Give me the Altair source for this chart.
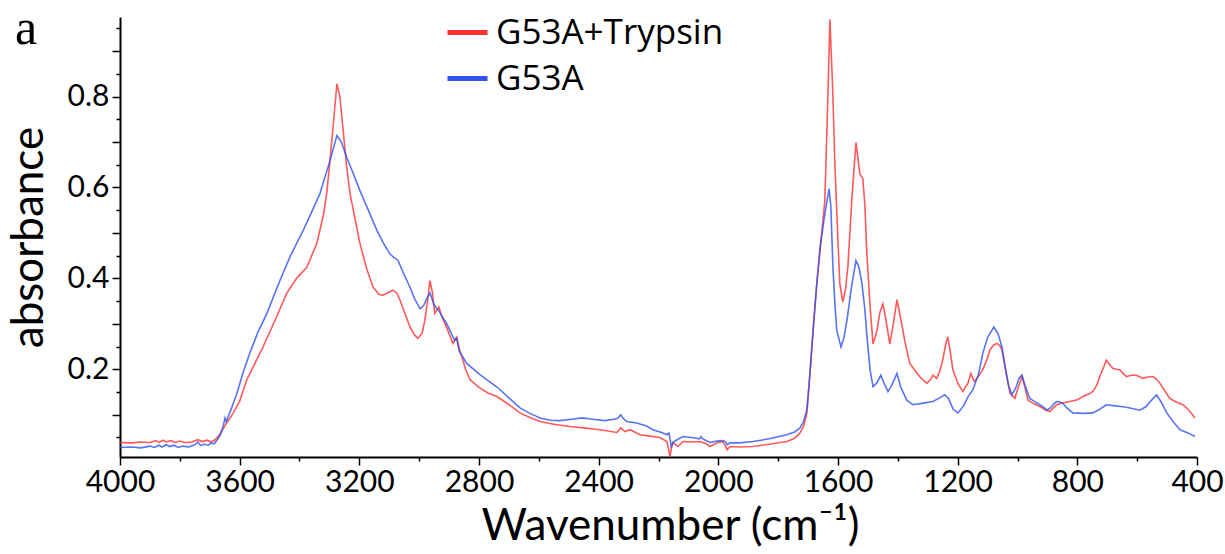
import altair as alt
import pandas as pd

# G53A+Trypsin (red)
red_w = [4000,3960,3930,3900,3880,3870,3855,3845,3830,3815,3800,3785,3760,3740,3725,3710,3695,3680,3665,3650,
         3620,3600,3576,3550,3522,3480,3443,3410,3376,3342,3320,3309,3298,3288,3275,3265,3255,3243,3231,3198,
         3175,3154,3135,3121,3100,3088,3075,3064,3045,3031,3015,3004,2990,2981,2972,2964,2956,2948,2940,2934,
         2925,2914,2900,2887,2880,2874,2866,2857,2845,2830,2800,2770,2740,2700,2663,2630,2596,2550,2496,2450,
         2396,2339,2330,2326,2318,2312,2295,2262,2230,2195,2172,2165,2162,2157,2152,2135,2118,2090,2062,2040,
         2028,2005,1985,1975,1971,1960,1930,1884,1830,1771,1745,1727,1715,1704,1695,1684,1672,1660,1644,1636,
         1627,1618,1610,1600,1594,1584,1575,1567,1554,1540,1527,1517,1510,1504,1493,1483,1476,1470,1460,1450,
         1440,1427,1415,1403,1390,1377,1360,1340,1326,1303,1290,1283,1270,1260,1250,1240,1233,1225,1216,1200,
         1183,1166,1156,1148,1143,1130,1116,1100,1092,1080,1069,1060,1052,1040,1025,1009,995,985,975,965,
         945,925,905,892,880,869,850,825,800,781,760,748,735,725,712,703,692,681,670,658,
         646,636,620,603,590,581,565,547,535,524,510,491,470,447,430,415,407]
red_a = [0.039,0.038,0.040,0.039,0.043,0.039,0.044,0.040,0.043,0.039,0.042,0.039,0.040,0.045,0.041,0.044,0.040,0.046,0.058,0.075,
         0.105,0.130,0.177,0.212,0.249,0.310,0.367,0.400,0.424,0.477,0.540,0.587,0.660,0.732,0.828,0.800,0.732,0.650,0.586,0.477,
         0.420,0.381,0.365,0.363,0.370,0.374,0.368,0.352,0.318,0.293,0.275,0.268,0.280,0.308,0.350,0.395,0.370,0.323,0.330,0.337,
         0.318,0.301,0.278,0.257,0.265,0.271,0.245,0.227,0.200,0.177,0.160,0.148,0.140,0.122,0.104,0.094,0.085,0.079,0.074,0.071,
         0.067,0.061,0.068,0.071,0.066,0.063,0.067,0.056,0.053,0.050,0.041,0.020,0.008,0.025,0.039,0.030,0.041,0.040,0.041,0.036,
         0.030,0.038,0.041,0.030,0.023,0.030,0.029,0.030,0.035,0.041,0.048,0.060,0.075,0.104,0.180,0.279,0.380,0.461,0.571,0.750,
         0.970,0.820,0.644,0.480,0.389,0.348,0.375,0.425,0.571,0.699,0.630,0.619,0.560,0.461,0.340,0.256,0.270,0.285,0.325,0.344,
         0.310,0.256,0.300,0.353,0.310,0.263,0.213,0.195,0.183,0.169,0.178,0.187,0.180,0.195,0.220,0.255,0.271,0.240,0.199,0.170,
         0.151,0.169,0.191,0.178,0.173,0.185,0.199,0.225,0.243,0.253,0.257,0.253,0.243,0.200,0.147,0.136,0.165,0.184,0.160,0.132,
         0.124,0.118,0.110,0.107,0.115,0.122,0.126,0.129,0.133,0.140,0.146,0.151,0.165,0.184,0.205,0.220,0.210,0.202,0.200,0.199,
         0.190,0.184,0.187,0.187,0.183,0.180,0.183,0.184,0.178,0.169,0.155,0.136,0.128,0.122,0.112,0.100,0.093]

# G53A (blue)
blue_w = [4000,3960,3930,3900,3885,3870,3860,3845,3835,3820,3805,3790,3770,3750,3740,3730,3720,3705,3695,3685,
          3675,3665,3655,3649,3645,3630,3610,3589,3566,3540,3509,3465,3430,3388,3360,3332,3298,3285,3275,3260,
          3242,3220,3198,3170,3141,3120,3098,3085,3071,3055,3031,3015,2997,2985,2975,2964,2952,2941,2935,2925,
          2908,2890,2881,2875,2866,2841,2800,2770,2740,2700,2663,2630,2596,2560,2529,2490,2456,2420,2379,2339,
          2330,2326,2318,2306,2273,2240,2219,2190,2172,2165,2160,2158,2150,2138,2118,2090,2062,2058,2050,2028,
          2005,1985,1975,1971,1960,1930,1884,1830,1771,1745,1727,1715,1704,1695,1684,1672,1660,1644,1630,1624,
          1617,1610,1604,1590,1580,1570,1555,1540,1530,1520,1510,1504,1493,1483,1470,1457,1445,1433,1420,1403,
          1390,1370,1350,1320,1283,1260,1243,1230,1215,1199,1180,1165,1149,1130,1116,1100,1079,1065,1052,1040,
          1030,1019,1005,995,985,975,959,945,932,915,902,890,880,869,858,848,835,815,780,748,
          725,703,680,640,591,570,555,535,520,501,480,457,430,407]
blue_a = [0.028,0.029,0.027,0.031,0.028,0.033,0.029,0.034,0.030,0.033,0.028,0.031,0.029,0.034,0.040,0.032,0.035,0.033,0.038,0.036,
          0.045,0.055,0.075,0.093,0.085,0.110,0.145,0.192,0.236,0.280,0.323,0.396,0.450,0.505,0.545,0.586,0.659,0.690,0.714,0.700,
          0.666,0.630,0.593,0.550,0.505,0.478,0.454,0.446,0.440,0.415,0.381,0.355,0.333,0.340,0.355,0.368,0.345,0.333,0.330,0.318,
          0.301,0.275,0.264,0.268,0.240,0.213,0.190,0.175,0.161,0.137,0.115,0.103,0.093,0.088,0.087,0.090,0.093,0.090,0.087,0.091,
          0.097,0.100,0.092,0.085,0.082,0.075,0.067,0.061,0.056,0.060,0.042,0.030,0.040,0.045,0.052,0.050,0.047,0.052,0.046,0.039,
          0.042,0.043,0.040,0.034,0.038,0.038,0.041,0.047,0.056,0.062,0.071,0.085,0.111,0.180,0.279,0.380,0.468,0.542,0.597,0.560,
          0.425,0.340,0.285,0.249,0.270,0.308,0.380,0.439,0.425,0.389,0.330,0.279,0.200,0.162,0.170,0.187,0.168,0.151,0.165,0.191,
          0.160,0.132,0.122,0.125,0.129,0.137,0.144,0.135,0.112,0.104,0.120,0.140,0.155,0.190,0.235,0.270,0.293,0.278,0.249,0.200,
          0.165,0.144,0.160,0.180,0.187,0.165,0.136,0.130,0.125,0.118,0.110,0.115,0.123,0.129,0.128,0.125,0.115,0.104,0.103,0.104,
          0.112,0.122,0.120,0.117,0.110,0.118,0.130,0.144,0.128,0.104,0.085,0.067,0.060,0.052]

series_names = ["G53A+Trypsin", "G53A"]
line_colors = ["#ff3030", "#3050f0"]
x_ticks = list(range(400, 4001, 200))
y_ticks = [round(0.05 * i, 2) for i in range(1, 20)]

df = pd.concat([
    pd.DataFrame({"wavenumber": red_w, "absorbance": red_a, "series": series_names[0]}),
    pd.DataFrame({"wavenumber": blue_w, "absorbance": blue_a, "series": series_names[1]}),
])

FONT = "Lato"

x_enc = alt.X("wavenumber:Q",
              scale=alt.Scale(domain=[400, 4000], reverse=True, nice=False, zero=False),
              axis=alt.Axis(values=x_ticks, labelFlush=False,
                            labelExpr="datum.value % 400 == 0 ? format(datum.value, 'd') : ''",
                            tickSize={"condition": {"test": "datum.value % 400 == 0", "value": 8}, "value": 4},
                            title="Wavenumber (cm⁻¹)", titlePadding=7, labelPadding=2, titleX=550))
y_enc = alt.Y("absorbance:Q",
              scale=alt.Scale(domain=[0.007, 0.975], nice=False, zero=False),
              axis=alt.Axis(values=y_ticks,
                            labelExpr="abs(datum.value*5 - round(datum.value*5)) < 0.001 && datum.value < 0.9 ? format(datum.value, '.1f') : ''",
                            tickSize={"condition": {"test": "abs(datum.value*10 - round(datum.value*10)) < 0.001", "value": 8}, "value": 4},
                            title="absorbance", titlePadding=16, labelPadding=3))

lines = alt.Chart(df).mark_line(strokeWidth=1.6, opacity=0.8).encode(
    x=x_enc, y=y_enc,
    color=alt.Color("series:N", scale=alt.Scale(domain=series_names, range=line_colors),
                    legend=alt.Legend(title=None, orient="none", legendX=325, legendY=-7,
                                      symbolType="stroke", symbolSize=1600, symbolStrokeWidth=5,
                                      symbolOpacity=1, labelFontSize=35, labelFont="Open Sans", labelLimit=0,
                                      labelOffset=6, rowPadding=5, labelColor="black")),
    order=alt.Order("wavenumber:Q", sort="descending"),
)

panel_label = alt.Chart(pd.DataFrame({"label": ["a"]})).mark_text(
    font="Liberation Serif", fontSize=50, align="left", baseline="alphabetic", color="black"
).encode(text="label:N", x=alt.value(-105), y=alt.value(27))

chart = alt.layer(lines, panel_label).properties(
    width=1077, height=440,
    autosize=alt.AutoSizeParams(type="none"),
    padding={"left": 120, "top": 17, "right": 28, "bottom": 97},
).configure_view(stroke=None).configure_axis(
    domainColor="black", domainWidth=2, tickColor="black", tickWidth=1.5,
    labelFont=FONT, labelFontSize=30, labelColor="black",
    titleFont=FONT, titleFontSize=44, titleFontWeight="normal", titleColor="black",
    grid=False,
)

chart.save("out.html", embed_options={"renderer": "svg", "actions": False})
